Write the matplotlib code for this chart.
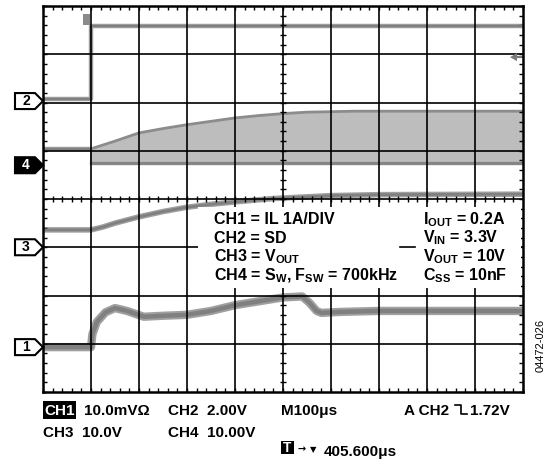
import matplotlib
matplotlib.use('Agg')
import matplotlib.pyplot as plt
import numpy as np
from matplotlib.patches import Polygon, Rectangle
from matplotlib.lines import Line2D
from matplotlib.ticker import MultipleLocator

plt.rcParams['font.family'] = ['Liberation Sans', 'DejaVu Sans']
plt.rcParams['mathtext.fontset'] = 'custom'
plt.rcParams['mathtext.rm'] = 'Liberation Sans:bold'
plt.rcParams['mathtext.it'] = 'Liberation Sans:bold'
plt.rcParams['mathtext.bf'] = 'Liberation Sans:bold'

# ---------------- data (divisions) ----------------
ch1_t = [0, 1.0, 1.03, 1.12, 1.3, 1.5, 1.75, 2.1, 2.5, 3.0, 3.5, 4.0, 4.5, 5.0, 5.4, 5.55, 5.7, 5.8, 6.2, 7, 8, 9, 10]
ch1_v = [0.93, 0.93, 1.2, 1.45, 1.65, 1.74, 1.68, 1.56, 1.58, 1.6, 1.68, 1.8, 1.88, 1.96, 1.98, 1.85, 1.68, 1.64, 1.66, 1.68, 1.68, 1.68, 1.68]

ch2_t = [0, 1.0, 1.0, 10]
ch2_v = [6.07, 6.07, 7.59, 7.59]

ch3_t = [0, 1.0, 1.25, 1.5, 2, 2.5, 3, 3.5, 4, 4.8, 6, 7, 10]
ch3_v = [3.36, 3.36, 3.42, 3.5, 3.63, 3.74, 3.83, 3.89, 3.94, 4.01, 4.07, 4.09, 4.1]

ch4_pre_t = [0, 1.0]
ch4_pre_v = [5.04, 5.04]
ch4_t = [1.0, 1.5, 2, 2.5, 3, 3.5, 4, 4.5, 5, 5.5, 6, 6.5, 10]
ch4_top = [5.04, 5.2, 5.37, 5.46, 5.54, 5.61, 5.68, 5.73, 5.77, 5.8, 5.81, 5.82, 5.82]
ch4_bottom = 4.75

markers = [('2', 6.03, False), ('4', 4.70, True), ('3', 3.0, False), ('1', 0.93, False)]

box_left = ['CH1 = IL 1A/DIV', 'CH2 = SD', 'CH3 = V$_{OUT}$', 'CH4 = S$_{W}$, F$_{SW}$ = 700kHz']
box_right = ['I$_{OUT}$ = 0.2A', 'V$_{IN}$ = 3.3V', 'V$_{OUT}$ = 10V', 'C$_{SS}$ = 10nF']

W, H = 554, 466
fig = plt.figure(figsize=(W / 100, H / 100), dpi=100)
ax = fig.add_axes([43 / W, (H - 392) / H, 480 / W, 386 / H])
ax.set_xlim(0, 10)
ax.set_ylim(0, 8)
dx = 10 / 480
dy = 8 / 386

TR_L = '#a0a0a0'
TR_D = '#808080'

# CH4 switching band
ax.fill_between(ch4_t, ch4_bottom, ch4_top, color='#bdbdbd', lw=0, zorder=1)
ax.plot(ch4_t, ch4_top, color='#8c8c8c', lw=2.0, zorder=1.2)
ax.plot([ch4_t[0], ch4_t[-1]], [ch4_bottom, ch4_bottom], color='#858585', lw=2.4, zorder=1.2)
ax.plot([1.0, 1.0], [ch4_bottom, ch4_pre_v[-1]], color=TR_D, lw=1.2, zorder=1.2)
ax.plot(ch4_pre_t, ch4_pre_v, color=TR_L, lw=3.2, zorder=1.2)
ax.plot(ch4_pre_t, ch4_pre_v, color=TR_D, lw=1.5, zorder=1.3)

# other traces
for t, v, wl, wd in [(ch2_t, ch2_v, 3.2, 1.6), (ch3_t, ch3_v, 4.0, 2.0), (ch1_t, ch1_v, 6.0, 3.2)]:
    ax.plot(t, v, color=TR_L, lw=wl, zorder=1.5, solid_joinstyle='round')
    ax.plot(t, v, color=TR_D, lw=wd, zorder=1.6, solid_joinstyle='round')

# grid
for x in range(1, 10):
    ax.axvline(x, color='black', lw=1.2, zorder=2.6)
for y in range(1, 8):
    ax.axhline(y, color='black', lw=1.2, zorder=2.6)
# centre-line ticks
ys = np.arange(1, 40) * 0.2
xs = np.arange(1, 50) * 0.2
ax.hlines(ys, 5 - 3 * dx, 5 + 3 * dx, color='black', lw=1.0, zorder=2.6)
ax.vlines(xs, 4 - 3 * dy, 4 + 3 * dy, color='black', lw=1.0, zorder=2.6)

for s in ax.spines.values():
    s.set_linewidth(1.8)
    s.set_zorder(5)
ax.xaxis.set_major_locator(MultipleLocator(1))
ax.yaxis.set_major_locator(MultipleLocator(1))
ax.xaxis.set_minor_locator(MultipleLocator(0.2))
ax.yaxis.set_minor_locator(MultipleLocator(0.2))
ax.tick_params(which='both', direction='in', top=True, right=True,
               labelbottom=False, labelleft=False, length=3.2, width=1.0)

# white legend box
ax.add_patch(Rectangle((3.23, 2.16), 9.96 - 3.23, 3.83 - 2.16, facecolor='white',
                       edgecolor='none', zorder=3))
ax.plot([7.44, 7.75], [3.0, 3.0], color='black', lw=1.2, zorder=3.1)

# trigger markers
ax.add_patch(Rectangle((40 * dx, 8 - 19 * dy), 7 * dx, 11 * dy, facecolor='#8a8a8a',
                       edgecolor='none', zorder=4, clip_on=False))
lvl = 6.94
ax.add_patch(Polygon([(10 - 13 * dx, lvl), (10 - 6 * dx, lvl + 4 * dy), (10 - 6 * dx, lvl - 4 * dy)],
                     closed=True, facecolor='#7a7a7a', edgecolor='none', zorder=4))
ax.plot([10 - 7 * dx, 10], [lvl, lvl], color='#7a7a7a', lw=1.6, zorder=4)

# channel markers
for lab, lev, filled in markers:
    pts = [(-28 * dx, lev - 8 * dy), (-8 * dx, lev - 8 * dy), (0, lev),
           (-8 * dx, lev + 8 * dy), (-28 * dx, lev + 8 * dy)]
    ax.add_patch(Polygon(pts, closed=True, facecolor='black' if filled else 'white',
                         edgecolor='black', lw=1.5, clip_on=False, zorder=6))
    ax.text(-17 * dx, lev, lab, ha='center', va='center', fontsize=10, fontweight='bold',
            color='white' if filled else 'black', clip_on=False, zorder=7)

def ft(x, y, s, **kw):
    kw.setdefault('fontsize', 11)
    kw.setdefault('fontweight', 'bold')
    kw.setdefault('va', 'baseline')
    return fig.text(x / W, 1 - y / H, s, **kw)

# legend box text
for i, s in enumerate(box_left):
    ft(214, 224 + i * 18.7, s, fontsize=11.5, zorder=8)
for i, s in enumerate(box_right):
    ft(423, 224 + i * 18.7, s, fontsize=11.5, zorder=8)

# bottom readout
fig.patches.append(Rectangle((43 / W, 1 - 419 / H), 33 / W, 18 / H, transform=fig.transFigure,
                             facecolor='black', edgecolor='none'))
ft(44.5, 415, 'CH1', color='white')
ft(84, 415, '10.0mV\u03a9')
ft(168, 415, 'CH2  2.00V')
ft(281, 415, 'M100\u03bcs')
ft(404, 415, 'A CH2')
fig.add_artist(Line2D([455 / W, 461 / W, 461 / W, 467 / W],
                      [1 - 405 / H, 1 - 405 / H, 1 - 414 / H, 1 - 414 / H], color='black', lw=1.2))
ft(470, 415, '1.72V')
ft(43, 437, 'CH3  10.0V')
ft(168, 437, 'CH4  10.00V')
fig.patches.append(Rectangle((281 / W, 1 - 454 / H), 13 / W, 13 / H, transform=fig.transFigure,
                             facecolor='black', edgecolor='none'))
fig.text(287.5 / W, 1 - 447.5 / H, 'T', color='white', fontsize=10, fontweight='bold',
         ha='center', va='center')
ft(297, 452, '\u2192', fontsize=7, family='DejaVu Sans')
ft(310, 452, '\u25bc', fontsize=6, family='DejaVu Sans')
ft(324, 456, '405.600\u03bcs')

fig.text(541 / W, 1 - 345 / H, '04472-026', rotation=90, ha='center', va='center',
         fontsize=8, fontweight='normal')

fig.savefig('out.png', dpi=100)
